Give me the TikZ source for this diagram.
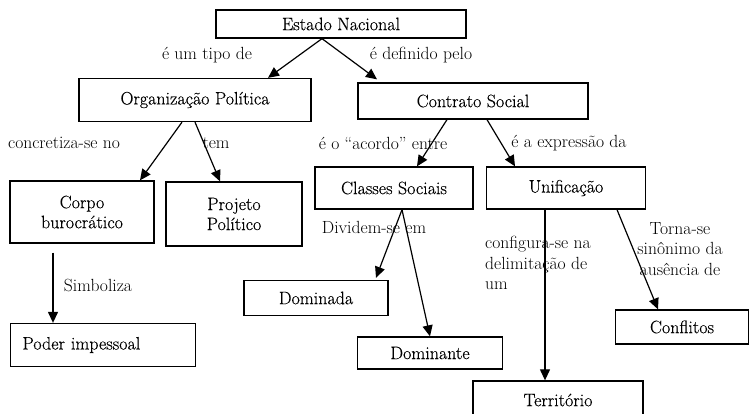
\documentclass[tikz,border=0pt]{standalone}
\usepackage{fontspec}
\setmainfont{Latin Modern Roman}[BoldFont=Latin Modern Roman,BoldFeatures={FakeBold=0.35}]
\usetikzlibrary{arrows.meta}
\tikzset{
   every path/.style={>={Triangle[length=11pt,width=10pt]}},
   cbox/.style={draw,rectangle,line width=1.3pt,inner sep=0pt,align=center,font=\fontsize{18}{20}\selectfont\bfseries},
   rel/.style={-{Triangle[length=11pt,width=10pt]},line width=1.2pt},
   lab/.style={inner sep=0pt,font=\fontsize{17.6}{20.5}\selectfont},
}

\begin{document}
\begin{tikzpicture}[x=1pt,y=-1pt]
      \useasboundingbox (0,0) rectangle (750,414);
      \clip (0,0) rectangle (750,414);
      \node[cbox,minimum width=250pt,minimum height=28pt] (estado) at (341,24) {Estado Nacional};
      \node[cbox,minimum width=232pt,minimum height=43pt] (org) at (195,100) {Organização Política};
      \node[cbox,minimum width=230pt,minimum height=36pt] (contrato) at (473,101) {Contrato Social};
      \node[cbox,minimum width=144pt,minimum height=62pt] (corpo) at (82,212) {Corpo\\burocrático};
      \node[cbox,minimum width=136pt,minimum height=64pt] (projeto) at (234,214) {Projeto\\Político};
      \node[cbox,minimum width=158pt,minimum height=42pt] (classes) at (394,188) {Classes Sociais};
      \node[cbox,minimum width=159pt,minimum height=42pt] (unif) at (566,188) {Unificação};
      \node[cbox,minimum width=185pt,minimum height=43pt,text width=161pt,align=left] (poder) at (103,345) {Poder impessoal};
      \node[cbox,minimum width=144pt,minimum height=35pt] (dominada) at (316,298) {Dominada};
      \node[cbox,minimum width=145pt,minimum height=32pt] (dominante) at (430,353) {Dominante};
      \node[cbox,minimum width=133pt,minimum height=34pt] (conflitos) at (682,327) {Conflitos};
      \node[cbox,minimum width=170pt,minimum height=38pt] (territorio) at (558,400) {Território};
      \node[lab] (ltipo) at (207,55) {é um tipo de};
      \node[lab] (ldef) at (421,55) {é definido pelo};
      \node[lab] (lconc) at (64,143) {concretiza-se no};
      \node[lab] (ltem) at (216,143) {tem};
      \node[lab] (lacordo) at (383,143) {é o ``acordo'' entre};
      \node[lab] (lexpr) at (569,143) {é a expressão da};
      \node[lab] (ldiv) at (374,227) {Dividem-se em};
      \node[lab] (lsimb) at (98,285) {Simboliza};
      \node[lab,anchor=west,align=left] (lconf) at (485,263) {configura-se na\\delimitação de\\ um};
      \node[lab,align=center] (ltorna) at (680,249) {Torna-se\\sinônimo da\\ausência de};
      \draw[rel] ([xshift=-19pt]estado.south) -- ([xshift=73pt]org.north);
      \draw[rel] ([xshift=-19pt]estado.south) -- ([xshift=-96pt,yshift=3pt]contrato.north);
      \draw[rel] ([xshift=-13pt]org.south) -- ([xshift=58pt]corpo.north);
      \draw[rel] (org.south) -- ([xshift=-14pt]projeto.north);
      \draw[rel] ([xshift=-26pt]contrato.south) -- ([xshift=23pt]classes.north);
      \draw[rel] ([xshift=14pt]contrato.south) -- ([xshift=-51pt]unif.north);
      \draw[rel] ([xshift=8pt]classes.south) -- ([xshift=60pt,yshift=2pt]dominada.north);
      \draw[rel] ([xshift=8pt]classes.south) -- (dominante.north);
      \draw[rel] ([xshift=-29pt,yshift=-9pt]corpo.south) -- ([xshift=-50pt]poder.north);
      \draw[rel] ([xshift=-21pt]unif.south) -- ([xshift=-13pt]territorio.north);
      \draw[rel] ([xshift=51pt]unif.south) -- ([xshift=-24pt]conflitos.north);
    \end{tikzpicture}
\end{document}
